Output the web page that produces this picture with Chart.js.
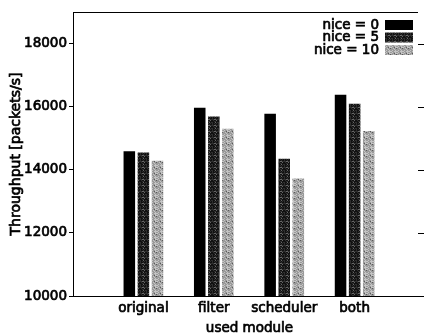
<!DOCTYPE html>
<html><head><meta charset="utf-8">
<script src="https://cdn.jsdelivr.net/npm/chart.js@4/dist/chart.umd.min.js"></script>
<style>html,body{margin:0;padding:0;background:#fff}#wrap{width:424px;height:333px}</style>
</head><body><div id="wrap"><canvas id="c" width="424" height="333"></canvas></div>
<script>
const categories = ['original', 'filter', 'scheduler', 'both'];
const seriesLabels = ['nice = 0', 'nice = 5', 'nice = 10'];
const nice0 = [14585, 15966, 15776, 16377];
const nice5 = [14544, 15690, 14353, 16092];
const nice10 = [14290, 15300, 13720, 15228];
const yTicks = [10000, 12000, 14000, 16000, 18000];
const yTitle = 'Throughput [packets/s]';
const xTitle = 'used module';

function makePattern(base, alt, light, k) {
  const c = document.createElement('canvas'); c.width = 6; c.height = 6;
  const g = c.getContext('2d');
  for (let y = 0; y < 6; y++) for (let x = 0; x < 6; x++) {
    const h = (x * 5 + y * 3 + ((x * y) % 4) * k) % 7;
    g.fillStyle = h === 0 ? light : (h < 3 ? alt : base);
    g.fillRect(x, y, 1, 1);
  }
  return g.createPattern(c, 'repeat');
}
const ctx0 = document.getElementById('c').getContext('2d');
const fills = ['#000000', makePattern('#111111', '#2e2e2e', '#666666', 2), makePattern('#9a9a9a', '#c4c4c4', '#5a5a5a', 3)];
const FONT = {family: '"DejaVu Sans"', size: 13.5, weight: 'normal'};
const STROKE = 0.7;
const series = [nice0, nice5, nice10];

function heavyText(ctx, text, x, y) {
  ctx.fillText(text, x, y);
  ctx.strokeText(text, x, y);
}

const extras = {
  id: 'extras',
  afterDraw(chart) {
    const {ctx, chartArea: a, scales: {y}} = chart;
    ctx.save();
    ctx.strokeStyle = '#000'; ctx.lineWidth = 1;
    ctx.beginPath();
    ctx.moveTo(a.left, a.top + 0.5); ctx.lineTo(a.right, a.top + 0.5);
    ctx.moveTo(a.right, a.bottom + 0.5); ctx.lineTo(chart.width, a.bottom + 0.5);
    yTicks.forEach(v => { const p = Math.round(y.getPixelForValue(v)) + 0.5; ctx.moveTo(a.right, p); ctx.lineTo(a.right + 6, p); });
    ctx.stroke();
    ctx.font = '13.5px "DejaVu Sans"';
    ctx.lineWidth = STROKE;
    ctx.fillStyle = '#000';
    // axis titles
    ctx.textAlign = 'center'; ctx.textBaseline = 'middle';
    heavyText(ctx, xTitle, (a.left + a.right) / 2 + 4, 328);
    ctx.save();
    ctx.translate(16, (a.top + a.bottom) / 2);
    ctx.rotate(-Math.PI / 2);
    ctx.font = '14px "DejaVu Sans"';
    heavyText(ctx, yTitle, 0, 0);
    ctx.restore();
    // legend
    ctx.textAlign = 'right'; ctx.textBaseline = 'middle';
    const rowY = [25, 37.5, 50];
    chart.data.datasets.forEach((ds, i) => {
      ctx.fillStyle = '#000';
      heavyText(ctx, ds.label, a.right - 39, rowY[i]);
      ctx.fillStyle = ds.backgroundColor;
      ctx.fillRect(a.right - 33, rowY[i] - 5, 28, 10);
    });
    ctx.restore();
  }
};

new Chart(ctx0, {
  type: 'bar',
  data: {
    datasets: series.map((vals, i) => ({
      label: seriesLabels[i],
      data: vals.map((v, j) => ({x: j + 1, y: v})),
      backgroundColor: fills[i],
      borderWidth: 0,
      categoryPercentage: 0.6,
      barPercentage: 0.82
    }))
  },
  options: {
    responsive: false, animation: false,
    layout: {padding: {left: 0, right: 6, top: 12, bottom: 0}},
    plugins: {legend: {display: false}, tooltip: {enabled: false}},
    scales: {
      x: {
        type: 'linear', min: 0, max: 4.9, offset: false,
        afterFit(s) { s.height = 37; },
        grid: {display: false, drawTicks: false, offset: false},
        border: {display: true, color: '#000', width: 1},
        ticks: {stepSize: 1, includeBounds: false, autoSkip: false, maxRotation: 0, padding: 4, color: '#000', font: FONT,
          textStrokeWidth: STROKE, textStrokeColor: '#000',
          callback: v => categories[v - 1] ?? ''}
      },
      y: {
        min: 10000, max: 19000,
        afterFit(s) { s.width = 73; },
        afterBuildTicks(s) { s.ticks = yTicks.map(v => ({value: v})); },
        grid: {display: true, drawOnChartArea: false, drawTicks: true, tickLength: 4, color: '#000'},
        border: {display: true, color: '#000', width: 1},
        ticks: {padding: 2, color: '#000', font: FONT, textStrokeWidth: STROKE, textStrokeColor: '#000', callback: v => String(v)}
      }
    }
  },
  plugins: [extras]
});
</script></body></html>
